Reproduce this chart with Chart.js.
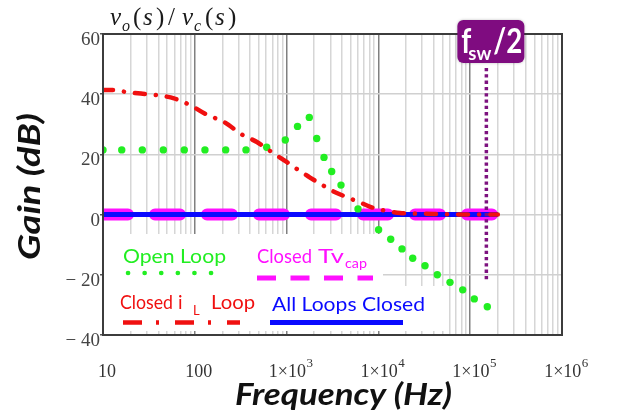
<!DOCTYPE html>
<html>
<head>
<meta charset="utf-8">
<script src="https://cdn.jsdelivr.net/npm/chart.js@4"></script>
<style>
  html, body { margin: 0; padding: 0; background: #fff; }
  canvas { display: block; }
</style>
</head>
<body>
<canvas id="bode" width="617" height="420"></canvas>
<script>
// Open-loop gain (dB) of vo/vc versus frequency (Hz)
const openLoopFreq = [10, 16, 26.8, 45.4, 76.8, 129, 217, 361, 607, 968, 1315, 1767, 2128, 2555, 3099,
  3913, 5995, 10050, 13614, 18072, 23639, 32186, 43820, 60256, 82850, 110830, 153600];
const openLoopGain = [21.5, 21.5, 21.5, 21.5, 21.5, 21.5, 21.5, 21.5, 22.4, 24.8, 29.3, 32.3, 25.3, 19.0, 14.3,
  9.8, 1.9, -5.0, -8.2, -11.4, -14.5, -17.0, -20.0, -22.5, -25.0, -28.0, -30.6];

// Gain with only the inductor current loop closed
const iLoopFreq = [10, 12.85, 17.4, 25.9, 38.7, 59.4, 88.5, 135, 207, 326, 475, 709, 1010, 1395, 1800,
  2457, 3140, 4434, 6018, 8290, 11500, 17200, 30000, 60000, 200000];
const iLoopGain = [41.4, 41.4, 40.8, 40.2, 39.7, 38.6, 36.4, 33.2, 30.8, 26.6, 24.1, 20.5, 17.4, 14.5, 12.3,
  9.8, 7.9, 5.9, 4.3, 2.5, 1.4, 0.5, 0.3, 0.1, 0.0];

// Capacitor-voltage loop closed / all loops closed
const closedFreq = [10, 100, 1000, 10000, 100000, 200000];
const tvCapGain = [0, 0, 0, 0, 0, 0];
const allLoopsGain = [0, 0, 0, 0, 0, 0];

// Half switching frequency marker
const fswHalf = 150000;
const fswMarkerGain = [48.7, -21.7];

// Axis ticks
const decades = [10, 100, 1e3, 1e4, 1e5, 1e6];
const xTickLabels = ['10', '100', '1×10^3', '1×10^4', '1×10^5', '1×10^6'];
const yTicks = [-40, -20, 0, 20, 40, 60];
const yTickLabels = ['− 40', '− 20', '0', '20', '40', '60'];

const pts = (xs, ys) => xs.map((x, i) => ({ x, y: ys[i] }));

// every 1..9 x 10^n line for the log grid
const gridFreqs = [];
for (let i = 0; i < decades.length - 1; i++) {
  for (let k = 1; k <= 9; k++) gridFreqs.push(k * decades[i]);
}
gridFreqs.push(decades[decades.length - 1]);

const C = {
  green: '#22ee22', red: '#f01010', magenta: '#ff10ff', blue: '#0a0aff', purple: '#7d127f'
};

// draws text runs; a run with a width w is fitted to that width
function runs(ctx, list) {
  for (const r of list) {
    ctx.font = r.font;
    ctx.fillStyle = r.color;
    if (r.w) {
      const m = ctx.measureText(r.t).width;
      ctx.save();
      ctx.translate(r.x, r.y);
      ctx.scale(r.w / m, 1);
      ctx.fillText(r.t, 0, 0);
      ctx.restore();
    } else {
      ctx.fillText(r.t, r.x, r.y);
    }
  }
}

const decor = {
  id: 'decor',
  beforeDatasetsDraw(chart) {
    const ctx = chart.ctx;
    ctx.save();
    ctx.fillStyle = '#ffffff';
    ctx.fillRect(104, 234, 279, 97);
    ctx.fillRect(383, 286, 63, 45);
    ctx.restore();
  },
  afterDatasetsDraw(chart) {
    const ctx = chart.ctx;
    const a = chart.chartArea;
    ctx.save();
    // frame
    ctx.strokeStyle = '#3c3c3c';
    ctx.lineWidth = 2;
    ctx.strokeRect(a.left, a.top, a.right - a.left, a.bottom - a.top);

    // legend
    const lf = '19px Lato, "Open Sans", sans-serif';
    const sf = '13px Lato, "Open Sans", sans-serif';
    ctx.textBaseline = 'alphabetic';
    ctx.textAlign = 'left';
    runs(ctx, [
      { t: 'Open Loop', x: 123, y: 263, w: 103, font: lf, color: C.green },
      { t: 'Closed', x: 257, y: 263, w: 55, font: lf, color: C.magenta },
      { t: 'Tv', x: 318, y: 263, w: 26, font: lf, color: C.magenta },
      { t: 'cap', x: 345, y: 268, w: 22, font: sf, color: C.magenta },
      { t: 'Closed', x: 120, y: 309, w: 53, font: lf, color: C.red },
      { t: 'i', x: 178, y: 309, font: lf, color: C.red },
      { t: 'L', x: 193, y: 315, font: sf, color: C.red },
      { t: 'Loop', x: 211, y: 309, w: 44, font: lf, color: C.red },
      { t: 'All Loops Closed', x: 272, y: 311, w: 153, font: lf, color: C.blue }
    ]);
    // legend samples
    ctx.lineCap = 'round';
    ctx.strokeStyle = C.green; ctx.lineWidth = 4.6;
    ctx.setLineDash([0.1, 16.5]);
    ctx.beginPath(); ctx.moveTo(128, 273); ctx.lineTo(212, 273); ctx.stroke();
    ctx.lineCap = 'butt';
    ctx.strokeStyle = C.magenta; ctx.lineWidth = 5;
    ctx.setLineDash([19, 14.5]);
    ctx.beginPath(); ctx.moveTo(257, 278); ctx.lineTo(373, 278); ctx.stroke();
    ctx.strokeStyle = C.red; ctx.lineWidth = 4.5;
    ctx.setLineDash([19, 14, 3, 16]);
    ctx.beginPath(); ctx.moveTo(123, 322.5); ctx.lineTo(240, 322.5); ctx.stroke();
    ctx.strokeStyle = C.blue; ctx.lineWidth = 5;
    ctx.setLineDash([]);
    ctx.beginPath(); ctx.moveTo(270, 322.5); ctx.lineTo(403, 322.5); ctx.stroke();
    ctx.restore();
  },
  afterDraw(chart) {
    const ctx = chart.ctx;
    const xs = chart.scales.x;
    ctx.save();
    // x tick labels with superscript exponents
    ctx.fillStyle = '#333';
    ctx.textBaseline = 'alphabetic';
    decades.forEach((v, i) => {
      const [base, exp] = xTickLabels[i].split('^');
      const big = '18px "Liberation Serif", serif';
      const small = '13px "Liberation Serif", serif';
      ctx.font = big; const w1 = ctx.measureText(base).width;
      let w2 = 0;
      if (exp) { ctx.font = small; w2 = ctx.measureText(exp).width; }
      const cx = xs.getPixelForValue(v) + 4;
      const x0 = cx - (w1 + w2) / 2;
      ctx.font = big; ctx.textAlign = 'left';
      ctx.fillText(base, x0, 377);
      if (exp) { ctx.font = small; ctx.fillText(exp, x0 + w1 + 0.5, 367); }
    });

    // axis titles
    const tf = 'italic bold 30px Lato, "Open Sans", sans-serif';
    runs(ctx, [{ t: 'Frequency (Hz)', x: 235, y: 405, w: 217, font: tf, color: '#111' }]);
    ctx.save();
    ctx.translate(40, 260);
    ctx.rotate(-Math.PI / 2);
    runs(ctx, [{ t: 'Gain (dB)', x: 0, y: 0, w: 147, font: tf, color: '#111' }]);
    ctx.restore();

    // transfer function title
    ctx.textAlign = 'left';
    const it = 'italic 25px "Liberation Serif", serif';
    const up = '25px "Liberation Serif", serif';
    const sub = 'italic 16px "Liberation Serif", serif';
    const ink = '#1a1a1a';
    runs(ctx, [
      { t: 'v', x: 110, y: 25, font: it, color: ink },
      { t: 'o', x: 122, y: 31, font: sub, color: ink },
      { t: '(', x: 133, y: 25, font: up, color: ink },
      { t: 's', x: 143, y: 25, font: it, color: ink },
      { t: ')', x: 156, y: 25, font: up, color: ink },
      { t: '/', x: 168, y: 25, font: up, color: ink },
      { t: 'v', x: 182, y: 25, font: it, color: ink },
      { t: 'c', x: 194, y: 31, font: sub, color: ink },
      { t: '(', x: 205, y: 25, font: up, color: ink },
      { t: 's', x: 215, y: 25, font: it, color: ink },
      { t: ')', x: 228, y: 25, font: up, color: ink }
    ]);

    // fsw/2 tag
    const px = xs.getPixelForValue(fswHalf);
    const bx = px - 29, by = 20, bw = 67, bh = 43;
    ctx.shadowColor = 'rgba(0,0,0,0.25)';
    ctx.shadowBlur = 3;
    ctx.fillStyle = '#7f0c80';
    ctx.beginPath();
    ctx.roundRect(bx, by, bw, bh, 6);
    ctx.fill();
    ctx.shadowBlur = 0;
    ctx.shadowColor = 'transparent';
    const bf = 'bold 34px Lato, "Open Sans", sans-serif';
    runs(ctx, [
      { t: 'f', x: bx + 4, y: 53, w: 10, font: bf, color: '#fff' },
      { t: 'sw', x: bx + 11, y: 60, w: 23, font: 'bold 19px Lato, "Open Sans", sans-serif', color: '#fff' },
      { t: '/2', x: bx + 36, y: 53, w: 29, font: bf, color: '#fff' }
    ]);
    ctx.restore();
  }
};

new Chart(document.getElementById('bode'), {
  type: 'line',
  data: {
    datasets: [
      {
        label: 'Closed Tvcap',
        data: pts(closedFreq, tvCapGain),
        borderColor: C.magenta, borderWidth: 12, borderDash: [25, 27],
        borderCapStyle: 'round', pointRadius: 0, order: 5, clip: 0
      },
      {
        label: 'All Loops Closed',
        data: pts(closedFreq, allLoopsGain),
        borderColor: C.blue, borderWidth: 5, pointRadius: 0, order: 4, clip: 0
      },
      {
        label: 'Open Loop',
        data: pts(openLoopFreq, openLoopGain),
        showLine: false, pointRadius: 3.7, pointBackgroundColor: C.green,
        pointBorderWidth: 0, borderColor: C.green, order: 3, clip: 0
      },
      {
        label: 'Closed iL Loop',
        data: pts(iLoopFreq, iLoopGain),
        borderColor: C.red, borderWidth: 4.5, borderDash: [10, 11, 0.1, 11],
        borderCapStyle: 'round', cubicInterpolationMode: 'monotone',
        pointRadius: 0, order: 2, clip: 0
      },
      {
        label: 'fsw/2',
        data: fswMarkerGain.map(y => ({ x: fswHalf, y })),
        borderColor: C.purple, borderWidth: 3.5, borderDash: [3.3, 3],
        pointRadius: 0, order: 1, clip: 0
      }
    ]
  },
  options: {
    responsive: false,
    animation: false,
    devicePixelRatio: 1,
    layout: { padding: { left: 0, top: 34, right: 55, bottom: 0 } },
    plugins: { legend: { display: false }, tooltip: { enabled: false }, title: { display: false } },
    scales: {
      x: {
        type: 'logarithmic', min: 10, max: 1e6,
        afterBuildTicks: s => { s.ticks = gridFreqs.map(v => ({ value: v })); },
        afterFit: s => { s.height = 85; },
        ticks: { display: false },
        border: { display: false },
        grid: {
          drawTicks: false,
          lineWidth: 1.5,
          color: c => {
            const l = Math.log10(c.tick.value);
            return Math.abs(l - Math.round(l)) < 1e-9 ? '#808080' : '#d6d6d6';
          }
        }
      },
      y: {
        min: -40, max: 60,
        afterBuildTicks: s => { s.ticks = yTicks.map(v => ({ value: v })); },
        afterFit: s => { s.width = 103; },
        border: { display: false },
        grid: { color: '#d0d0d0', lineWidth: 1.5, tickLength: 3, tickColor: '#555' },
        ticks: {
          padding: 0,
          labelOffset: 6,
          color: '#444',
          font: { family: '"Liberation Serif", serif', size: 19 },
          callback: v => yTickLabels[yTicks.indexOf(v)]
        }
      }
    }
  },
  plugins: [decor]
});
</script>
</body>
</html>
